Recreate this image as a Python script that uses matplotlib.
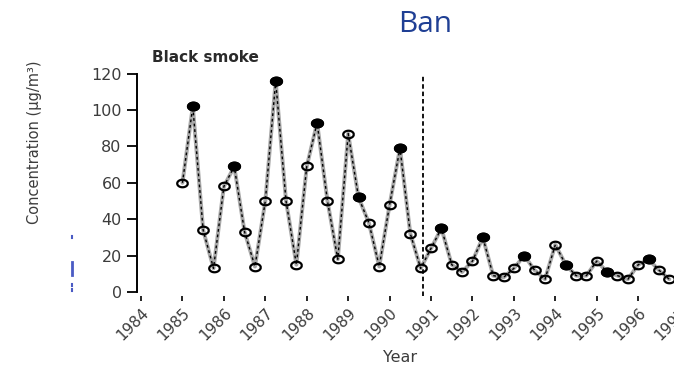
import numpy as np
import matplotlib
matplotlib.use("Agg")
import matplotlib.pyplot as plt
from matplotlib.path import Path
from matplotlib.lines import Line2D

# quarterly black smoke means, 1985-1996
start_year = 1985
values = [60, 102, 34, 13, 58, 69, 33, 14, 50, 116, 50, 15,
          69, 93, 50, 18, 87, 52, 38, 14, 48, 79, 32, 13,
          24, 35, 15, 11, 17, 30, 9, 8, 13, 20, 12, 7,
          26, 15, 9, 9, 17, 11, 9, 7, 15, 18, 12, 7]
# winter quarters are drawn filled
winter = [1, 5, 9, 13, 17, 21, 25, 29, 33, 37, 41, 45]
ban_year = 1990.8
year_ticks = list(range(1984, 1998))
conc_ticks = [0, 20, 40, 60, 80, 100, 120]

x = start_year + 0.25 * np.arange(len(values))
y = np.array(values, dtype=float)
xw = x[winter]
yw = y[winter]

W, H = 674, 366
fig = plt.figure(figsize=(W / 100, H / 100), dpi=100)
# axes placed in pixels: y axis at x=137, bottom ticks at y=296
ax = fig.add_axes([137 / W, (H - 296) / H, 553 / W, 226 / H])
ax.set_xlim(1983.903, 1997.25)
ax.set_ylim(-2.2, 122)

# wide oval marker
t = np.linspace(0, 2 * np.pi, 60)
oval = Path(np.column_stack([1.4 * np.cos(t), np.sin(t)]))

ax.plot(x, y, color="#a8a8a8", lw=2.8, solid_capstyle="round", zorder=2)
ax.plot(x, y, color="black", lw=1.0, dashes=(2, 2), zorder=3)
ax.plot(x, y, ls="none", marker=oval, ms=7.6, mfc="none", mec="black",
        mew=1.6, zorder=4)
ax.plot(xw, yw, ls="none", marker=oval, ms=8.6, mfc="black", mec="black",
        mew=1.0, zorder=5)

ax.vlines(ban_year, -2.2, 120, color="black", lw=1.3,
          linestyles=(0, (2.5, 1.6)), zorder=1)

for s in ["top", "right", "bottom"]:
    ax.spines[s].set_visible(False)
ax.spines["left"].set_bounds(0, 120)
ax.spines["left"].set_linewidth(1.4)

ax.set_yticks(conc_ticks)
ax.set_xticks(year_ticks)
ax.set_xticklabels([str(v) for v in year_ticks])
ax.tick_params(axis="y", direction="out", length=7.5, width=1.3, pad=3.5,
               labelsize=11.5, labelcolor="#3c3c3c")
ax.tick_params(axis="x", direction="out", length=3.8, width=1.2, pad=2.5,
               labelsize=11, labelcolor="#3c3c3c")
plt.setp(ax.get_xticklabels(), rotation=45, ha="right",
         rotation_mode="anchor")

fig.text(35 / W, 1 - 142 / H, "Concentration (µg/m³)", rotation=90,
         ha="center", va="center", fontsize=10.5, color="#3c3c3c")
fig.text(400 / W, 1 - 358 / H, "Year", ha="center", va="center",
         fontsize=11.5, color="#3c3c3c")
fig.text(152 / W, 1 - 58 / H, "Black smoke", ha="left", va="center",
         fontsize=11, fontweight="bold", color="#2a2a2a")
fig.text(425 / W, 1 - 24 / H, "Ban", ha="center", va="center",
         fontsize=21.5, family="Open Sans", color="#1f3f94")

# small blue marks on the left margin
blue = "#4a5bc4"
for y0, y1, lw in [(236, 238, 1.5), (262, 275, 2.0), (284, 286, 1.5), (289, 291, 1.5)]:
    fig.add_artist(Line2D([72 / W, 72 / W], [1 - y0 / H, 1 - y1 / H],
                          color=blue, lw=lw, transform=fig.transFigure))

fig.savefig("out.png", dpi=100)
